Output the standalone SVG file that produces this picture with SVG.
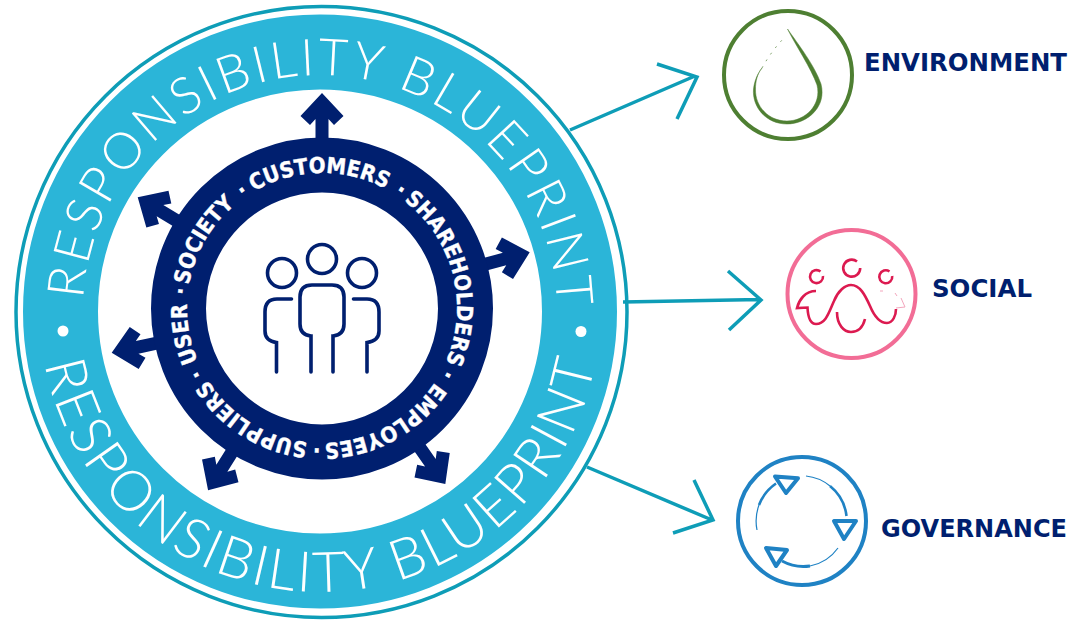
<svg xmlns="http://www.w3.org/2000/svg" width="1080" height="620" viewBox="0 0 1080 620">
<style>
.ring{font-family:"Lato","Open Sans",sans-serif;font-weight:300;fill:#fff;text-anchor:middle}
.w{font-family:"DejaVu Sans",sans-serif;font-weight:700;font-stretch:condensed;font-size:22px;fill:#fff;stroke:#fff;stroke-width:.35;text-anchor:middle}
.lbl{font-family:"DejaVu Sans",sans-serif;font-weight:700;font-size:24px;fill:#001f6f}
.conn{fill:none;stroke:#0e9db7;stroke-width:3.5}
.ar{fill:#001f6f}
.pp{fill:none;stroke:#001f6f;stroke-width:3.6;stroke-linecap:round}
</style>
<defs>
<path id="ta" d="M 83 312 A 237 237 0 0 1 557 312"/>
<path id="ba" d="M 40 312 A 280 280 0 0 0 600 312"/>
<path id="ic" d="M 322 443 A 135 135 0 1 1 322 173 A 135 135 0 1 1 322 443"/>
<polygon id="a" points="-6.5,-160 -6.5,-189 -12,-183 -21.5,-192 0,-215 21.5,-192 12,-183 6.5,-189 6.500,-160"/>
</defs>
<g id="outer-ring">
<circle cx="321.500" cy="312" r="305.500" fill="#fff" stroke="#0e9db7" stroke-width="3.500"/>
<circle cx="320" cy="311.500" r="259.500" fill="none" stroke="#2bb5d8" stroke-width="75"/>
<text class="ring" font-size="51"><textPath href="#ta" startOffset="50.500%" textLength="726" lengthAdjust="spacing">RESPONSIBILITY BLUEPRINT</textPath></text>
<text class="ring" font-size="56"><textPath href="#ba" startOffset="50%" textLength="775" lengthAdjust="spacing">RESPONSIBILITY BLUEPRINT</textPath></text>
<circle cx="63" cy="331" r="5.500" fill="#fff"/>
<circle cx="581" cy="331.500" r="5.500" fill="#fff"/>
</g>
<g id="stakeholder-arrows">
<use href="#a" class="ar" transform="translate(322 308)"/>
<use href="#a" class="ar" transform="translate(322 308) rotate(75)"/>
<use href="#a" class="ar" transform="translate(322 308) rotate(145)"/>
<use href="#a" class="ar" transform="translate(322 308) rotate(212)"/>
<use href="#a" class="ar" transform="translate(322 308) rotate(258)"/>
<use href="#a" class="ar" transform="translate(322 308) rotate(301)"/>
</g>
<g id="stakeholder-ring">
<circle cx="322" cy="308.500" r="143.500" fill="#fff" stroke="#001f6f" stroke-width="55"/>
<text class="w"><textPath href="#ic" startOffset="49.700%">CUSTOMERS</textPath></text>
<text class="w"><textPath href="#ic" startOffset="59.400%">·</textPath></text>
<text class="w"><textPath href="#ic" startOffset="71%">SHAREHOLDERS</textPath></text>
<text class="w"><textPath href="#ic" startOffset="82.800%">·</textPath></text>
<text class="w"><textPath href="#ic" startOffset="92%">EMPLOYEES</textPath></text>
<text class="w"><textPath href="#ic" startOffset="0.600%">·</textPath></text>
<text class="w"><textPath href="#ic" startOffset="8.900%">SUPPLIERS</textPath></text>
<text class="w"><textPath href="#ic" startOffset="17.200%">·</textPath></text>
<text class="w"><textPath href="#ic" startOffset="22%">USER</textPath></text>
<text class="w"><textPath href="#ic" startOffset="26.900%">·</textPath></text>
<text class="w"><textPath href="#ic" startOffset="33.300%">SOCIETY</textPath></text>
<text class="w"><textPath href="#ic" startOffset="40.500%">·</textPath></text>
</g>
<g id="people-icon" class="pp">
<circle cx="322" cy="259" r="14.500"/>
<circle cx="282" cy="273" r="14.500"/>
<circle cx="362" cy="273" r="14.500"/>
<path d="M311 372V336Q300 335 300 324V297Q300 285 312 285H332Q344 285 344 297V324Q344 335 333 336V372"/>
<path d="M291.500 299H277Q265 299 265 312V331Q265 341 276.500 342.500V372"/>
<path d="M353.500 299H367Q379 299 379 312V331Q379 341 367 342.500V372"/>
</g>
<g id="connectors" class="conn">
<path d="M570 130L695 76M657 64L697 77L677 119"/>
<path d="M623 302L760 299.500M728 271L761 300L729 330"/>
<path d="M587 467L712 520M694 480L713 520L673 533"/>
</g>
<g id="environment">
<circle cx="788" cy="75" r="64" fill="none" stroke="#4e7f32" stroke-width="4"/>
<path d="M787.500 29C798 44 815 66 821 84C827 107 807 124 787 124C766 124 752 107 753.500 89C754.500 80 758 73 762 68C757 74 755.500 82 755.500 89C755 106 768 121 787 121C805 121 822 105 817 85C811 68 796 46 787.500 29Z" fill="#4e7f32" stroke="#4e7f32" stroke-width=".5"/>
<path d="M762 68C768 57 776 46 785 37" fill="none" stroke="#4e7f32" stroke-width="1" stroke-dasharray="2 6" opacity=".7"/>
<text class="lbl" x="864" y="71" textLength="203" lengthAdjust="spacingAndGlyphs">ENVIRONMENT</text>
</g>
<g id="social">
<circle cx="851.500" cy="294" r="64" fill="none" stroke="#f26d96" stroke-width="4"/>
<g fill="none" stroke="#dc1a50" stroke-width="2.600">
<path d="M857 261.500A8.500 8.500 0 1 0 860.200 268"/>
<path d="M820.500 271.500A6.500 6.500 0 1 0 823 276"/>
<path d="M889.500 271.500A6.500 6.500 0 1 0 892.200 276"/>
<path d="M816 291C805 291 799 300 797 308L807.500 307.500C808 318 811 324 816 324C826 324 829 312 834 301C838 291 845 285 851 285C860 285 865 295 870 306C875 318 880 323 887 323C893 323 896 315 896 309"/>
<path d="M837 312C837 325 844 332 851 332C858 332 863 327 865 319"/>
</g>
<path d="M896 308L905 307L901 298M880 291L883 291M895 293L897 296" fill="none" stroke="#f3a6bd" stroke-width="1"/>
<text class="lbl" x="932" y="297" textLength="100" lengthAdjust="spacingAndGlyphs">SOCIAL</text>
</g>
<g id="governance">
<circle cx="802" cy="521" r="64" fill="none" stroke="#1f82c4" stroke-width="4"/>
<g fill="none" stroke="#1f82c4" stroke-linejoin="round">
<path d="M757 530A46 46 0 0 1 759 505" stroke-width="1.200"/>
<path d="M759 505A46 46 0 0 1 776 483.500" stroke-width="2.600"/>
<path d="M806 476A45 45 0 0 1 830 486" stroke-width="1.200"/>
<path d="M830 486A45 45 0 0 1 846.500 516" stroke-width="2.600"/>
<path d="M782 561A45 45 0 0 0 810 566" stroke-width="2.800"/>
<path d="M810 566A45 45 0 0 0 838 548" stroke-width="1.200"/>
<path d="M775 476.500L798 478.300L786 493Z" stroke-width="4"/>
<path d="M834 521L856 521L844 539Z" stroke-width="4"/>
<path d="M766 548L787 550L776 566Z" stroke-width="4"/>
</g>
<text class="lbl" x="881" y="537" textLength="186" lengthAdjust="spacingAndGlyphs">GOVERNANCE</text>
</g>
</svg>
